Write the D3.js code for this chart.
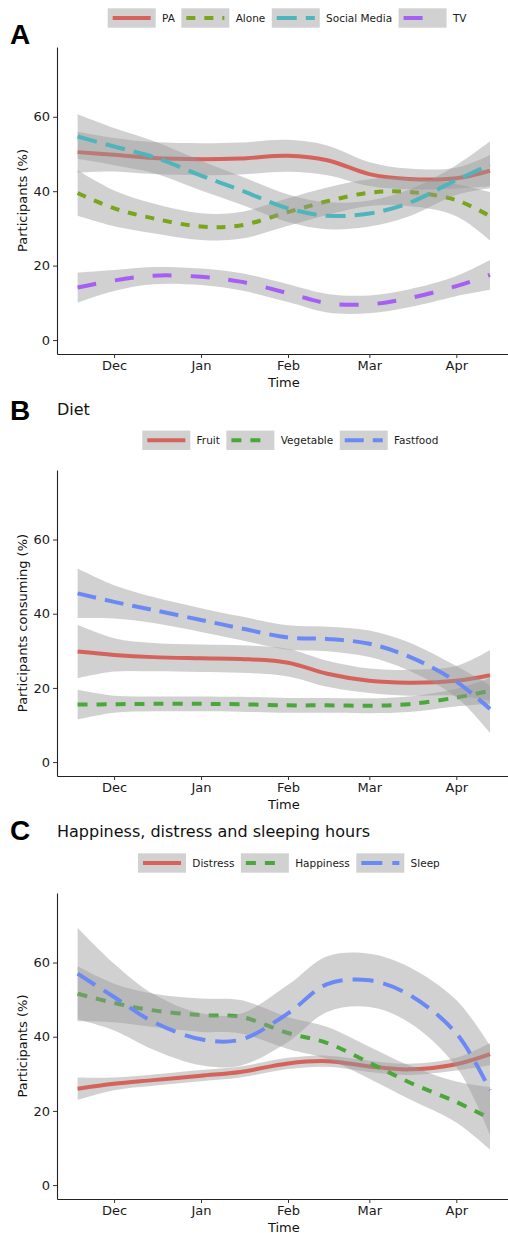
<!DOCTYPE html>
<html><head><meta charset="utf-8">
<script src="https://cdn.jsdelivr.net/npm/d3@7"></script>
<style>body{margin:0;background:#fff} svg{display:block}</style>
</head><body><svg id="c" width="508" height="1233"></svg>
<script>
// ---- data ----
const dates = ["2019-11-18","2019-12-01","2019-12-15","2020-01-01","2020-01-15","2020-02-01","2020-02-15","2020-03-01","2020-03-15","2020-04-01","2020-04-13"];
const monthTicks = ["2019-12-01","2020-01-01","2020-02-01","2020-03-01","2020-04-01"];
const yTicks = [0, 20, 40, 60];

// Panel A
const seriesA = ["PA", "Alone", "Social Media", "TV"];
const paVals    = [50.5, 49.8, 48.9, 48.6, 48.8, 49.5, 48.3, 44.6, 43.3, 43.5, 45.5];
const paCI      = [5.5, 4.5, 4.3, 4.3, 4.3, 4.3, 4.0, 3.2, 2.8, 2.8, 4.2];
const aloneVals = [39.5, 35.4, 32.7, 30.5, 30.8, 34.4, 37.3, 39.6, 39.8, 37.6, 33.3];
const aloneCI   = [6.1, 4.8, 4.0, 3.6, 3.6, 3.7, 3.7, 3.6, 3.8, 4.3, 6.5];
const smVals    = [54.7, 52.0, 49.2, 44.2, 40.3, 35.4, 33.4, 34.0, 36.8, 43.0, 47.1];
const smCI      = [6.0, 5.0, 4.3, 4.0, 3.8, 3.7, 3.6, 3.5, 3.6, 4.0, 6.3];
const tvVals    = [14.1, 16.0, 17.3, 17.0, 15.7, 12.6, 9.9, 9.6, 11.2, 14.5, 17.5];
const tvCI      = [4.0, 2.8, 2.3, 2.2, 2.3, 2.4, 2.5, 2.4, 2.4, 2.7, 4.0];

// Panel B
const seriesB = ["Fruit", "Vegetable", "Fastfood"];
const fruitVals = [29.8, 28.9, 28.3, 28.0, 27.8, 26.8, 23.8, 21.9, 21.4, 21.9, 23.4];
const fruitCI   = [7.2, 4.5, 3.8, 3.7, 3.7, 3.7, 3.5, 3.3, 3.5, 4.0, 6.8];
const vegVals   = [15.5, 15.6, 15.7, 15.7, 15.6, 15.3, 15.3, 15.2, 15.6, 17.4, 19.2];
const vegCI     = [4.0, 2.3, 2.0, 2.0, 2.0, 2.0, 2.0, 2.0, 2.1, 2.4, 3.5];
const fastVals  = [45.5, 43.2, 41.0, 38.3, 36.1, 33.6, 33.2, 31.9, 28.5, 21.7, 14.3];
const fastCI    = [6.7, 4.5, 3.5, 3.2, 3.2, 3.3, 3.3, 3.6, 3.8, 4.2, 6.4];

// Panel C
const seriesC = ["Distress", "Happiness", "Sleep"];
const distressVals = [26.0, 27.3, 28.3, 29.5, 30.5, 32.8, 33.4, 32.0, 31.2, 32.6, 35.3];
const distressCI   = [3.0, 1.7, 1.5, 1.5, 1.5, 1.5, 1.5, 1.5, 1.5, 1.7, 3.0];
const happyVals    = [51.6, 49.1, 47.1, 45.8, 45.4, 41.0, 38.3, 33.0, 27.8, 22.4, 18.0];
const happyCI      = [7.4, 5.2, 4.5, 4.5, 4.5, 4.3, 4.3, 4.3, 4.5, 5.5, 8.4];
const sleepVals    = [57.0, 50.7, 44.0, 39.3, 39.2, 46.3, 54.2, 55.2, 51.4, 40.9, 25.6];
const sleepCI      = [12.3, 9.0, 7.5, 7.0, 7.0, 7.7, 7.5, 7.2, 7.5, 9.0, 12.0];

// ---- styling ----
const RED = "#d5625b", OLIVE = "#7aa51a", TEAL = "#4fb5bc", PURPLE = "#a65ef5", GREEN = "#4aa83a", BLUE = "#6b89f5";
const FONT = "DejaVu Sans, sans-serif";

const panels = [
  {letter: "A", letterY: 44, title: null, titleY: 0, ytitle: "Participants (%)",
   top: 47, bottom: 354, legendY: 18, legendX: 107.7,
   series: [
     {name: seriesA[0], vals: paVals, ci: paCI, color: RED, dash: null},
     {name: seriesA[1], vals: aloneVals, ci: aloneCI, color: OLIVE, dash: "9,9"},
     {name: seriesA[2], vals: smVals, ci: smCI, color: TEAL, dash: "20,9"},
     {name: seriesA[3], vals: tvVals, ci: tvCI, color: PURPLE, dash: "19,19"}]},
  {letter: "B", letterY: 420, title: "Diet", titleY: 415, ytitle: "Participants consuming (%)",
   top: 470, bottom: 776, legendY: 440.3, legendX: 142.3,
   series: [
     {name: seriesB[0], vals: fruitVals, ci: fruitCI, color: RED, dash: null},
     {name: seriesB[1], vals: vegVals, ci: vegCI, color: GREEN, dash: "10,9"},
     {name: seriesB[2], vals: fastVals, ci: fastCI, color: BLUE, dash: "19,9"}]},
  {letter: "C", letterY: 840, title: "Happiness, distress and sleeping hours", titleY: 837, ytitle: "Participants (%)",
   top: 893, bottom: 1199, legendY: 863, legendX: 138,
   series: [
     {name: seriesC[0], vals: distressVals, ci: distressCI, color: RED, dash: null},
     {name: seriesC[1], vals: happyVals, ci: happyCI, color: GREEN, dash: "10,9"},
     {name: seriesC[2], vals: sleepVals, ci: sleepCI, color: BLUE, dash: "21,10"}]}
];

const svg = d3.select("#c");
const parse = d3.utcParse("%Y-%m-%d");
const dd = dates.map(parse);
const span = dd[dd.length - 1] - dd[0];
const x = d3.scaleUtc()
  .domain([new Date(+dd[0] - 0.05 * span), new Date(+dd[dd.length - 1] + 0.05 * span)])
  .range([57, 510.6]);
const plotLeft = 57, plotRight = 510.6;

panels.forEach(p => {
  const y = d3.scaleLinear().domain([-3.75, 78.75]).range([p.bottom, p.top]);
  const g = svg.append("g");

  g.append("text").attr("x", 10).attr("y", p.letterY).text(p.letter)
    .attr("font-family", "Liberation Sans, Arial, sans-serif").attr("font-weight", "bold")
    .attr("font-size", 28).attr("fill", "#000");
  if (p.title) {
    g.append("text").attr("x", 57).attr("y", p.titleY).text(p.title)
      .attr("font-family", FONT).attr("font-size", 16).attr("fill", "#111");
  }

  const area = d3.area().curve(d3.curveCatmullRom.alpha(0.5))
    .x((d, i) => x(dd[i])).y0(d => y(d[0] - d[1])).y1(d => y(d[0] + d[1]));
  const line = d3.line().curve(d3.curveCatmullRom.alpha(0.5))
    .x((d, i) => x(dd[i])).y(d => y(d));
  p.series.forEach(s => {
    const pts = s.vals.map((v, i) => [v, s.ci[i]]);
    g.append("path").attr("d", area(pts)).attr("fill", "#999").attr("fill-opacity", 0.45);
    g.append("path").attr("d", line(s.vals)).attr("fill", "none")
      .attr("stroke", s.color).attr("stroke-width", 4)
      .attr("stroke-dasharray", s.dash);
  });

  const ya = g.append("g").attr("transform", `translate(${plotLeft},0)`)
    .call(d3.axisLeft(y).tickValues(yTicks).tickSize(4).tickSizeOuter(0).tickPadding(3));
  const xa = g.append("g").attr("transform", `translate(0,${p.bottom})`)
    .call(d3.axisBottom(x).tickValues(monthTicks.map(parse)).tickFormat(d3.utcFormat("%b"))
      .tickSize(4).tickSizeOuter(0).tickPadding(3));
  [ya, xa].forEach(a => {
    a.selectAll("text").attr("font-family", FONT).attr("font-size", 13).attr("fill", "#1a1a1a");
    a.selectAll("line").attr("stroke", "#333");
    a.select(".domain").attr("stroke", "#222").attr("stroke-width", 1.1);
  });

  g.append("text").attr("x", (plotLeft + plotRight) / 2).attr("y", p.bottom + 32.5)
    .attr("text-anchor", "middle").attr("font-family", FONT).attr("font-size", 13).attr("fill", "#111").text("Time");
  g.append("text").attr("transform", `translate(26.5,${(p.top + p.bottom) / 2}) rotate(-90)`)
    .attr("text-anchor", "middle").attr("font-family", FONT).attr("font-size", 13).attr("fill", "#111").text(p.ytitle);

  let lx = p.legendX;
  p.series.forEach(s => {
    const kg = g.append("g");
    kg.append("rect").attr("x", lx).attr("y", p.legendY - 9.7).attr("width", 48).attr("height", 19.4)
      .attr("fill", "#999").attr("fill-opacity", 0.45);
    kg.append("line").attr("x1", lx + 5).attr("x2", lx + 43).attr("y1", p.legendY).attr("y2", p.legendY)
      .attr("stroke", s.color).attr("stroke-width", 4).attr("stroke-dasharray", s.dash);
    const t = kg.append("text").attr("x", lx + 54.3).attr("y", p.legendY).attr("dy", "0.35em")
      .attr("font-family", FONT).attr("font-size", 10.5).attr("fill", "#1a1a1a").text(s.name);
    lx = lx + 54.3 + t.node().getComputedTextLength() + 6.5;
  });
});
</script>
</body></html>
